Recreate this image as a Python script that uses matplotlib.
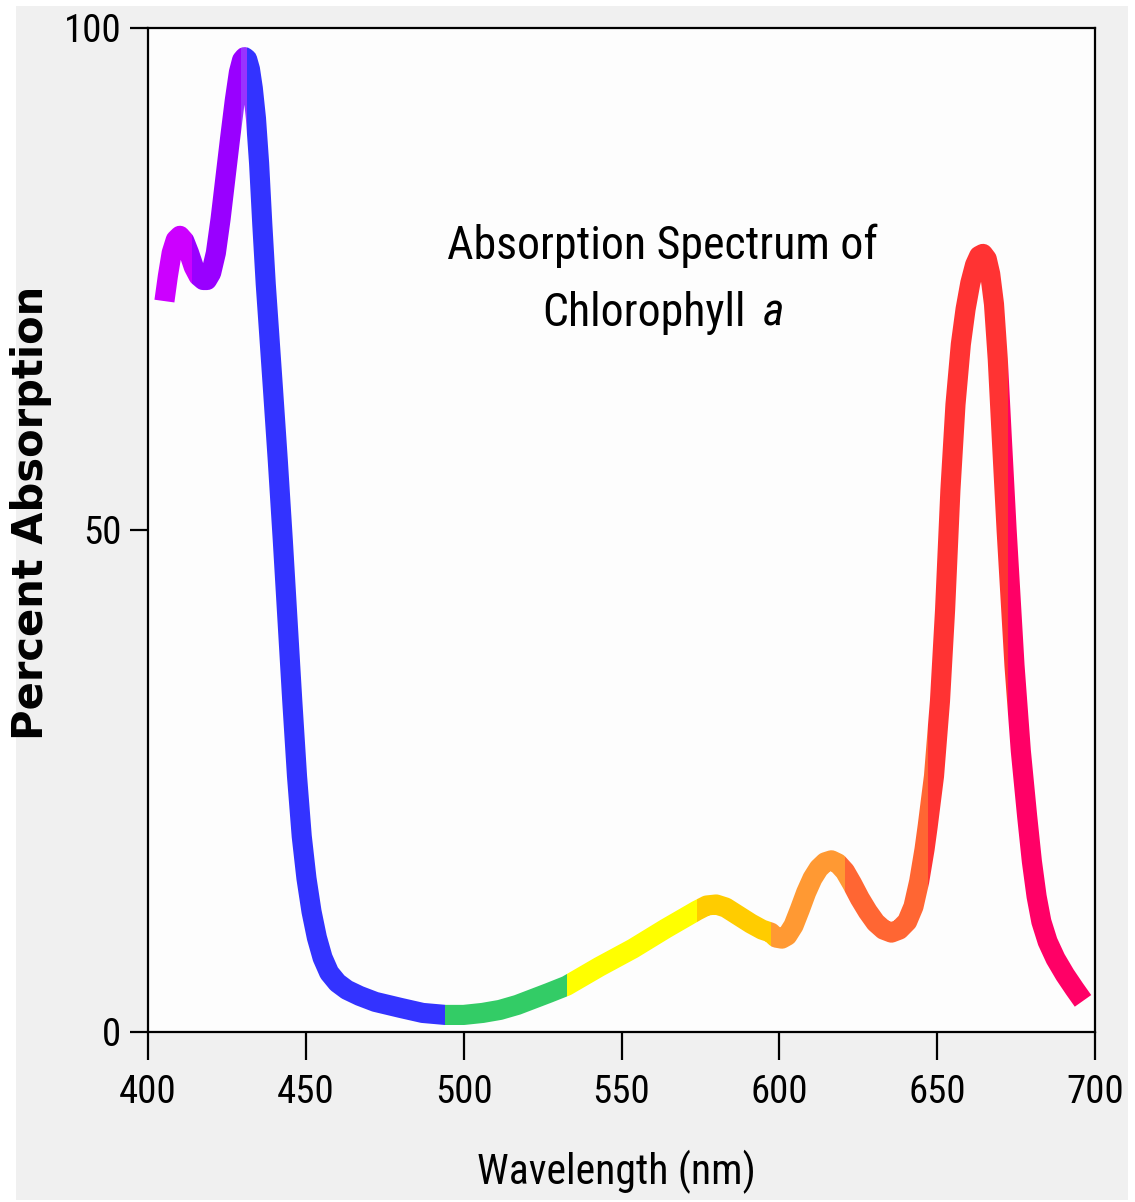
import numpy as np
import matplotlib
matplotlib.use("Agg")
import matplotlib.pyplot as plt
from matplotlib.patches import Rectangle
from matplotlib import font_manager as fm

# ---- data ----
wavelength = [405.2, 406.3, 407.5, 408.8, 410.1, 411.5, 413, 414.5, 416, 417.5, 418.7, 420, 421.5,
              423, 424.5, 426, 427.5, 428.8, 429.8, 430.6, 431.4, 432.3, 433.2, 434.2, 435.2,
              436.2, 437.3, 438.4, 439.6, 441.1, 442.7, 444.2, 445.7, 447.2, 448.7, 450.2, 451.8,
              453.5, 455.3, 457.4, 460, 463, 467, 472, 480, 487, 494.2, 500, 506, 511.5, 517, 522, 527,
              532.6, 543, 553.6, 564, 573.9, 577, 580, 583, 587, 591, 594.5, 597.3, 599, 600.8,
              602.5, 604.5, 606.5, 608.5, 610.5, 612.5, 614.5, 616.5, 618.5, 620.8, 623, 625.5,
              628, 630.5, 633, 635.5, 638, 640.5, 642.5, 644.3, 646, 647, 649, 650.9, 652.5,
              654.2, 655.8, 657.5, 659, 660.5, 662, 663.3, 664.5, 665.7, 666.8, 668, 669.2,
              670.5, 672, 673.3, 674.5, 676.5, 678.5, 680, 681.5, 683, 685, 687.5, 690.5, 693.5,
              696.2]
absorption = [72.8, 75.3, 77.6, 78.9, 79.3, 78.8, 77.6, 76.2, 75.3, 74.9, 74.9, 75.6, 77.6,
              81, 85, 89, 92.8, 95.6, 96.8, 97.1, 96.9, 95.9, 94, 91, 86.5,
              80.5, 74.5, 69.5, 64, 57, 49, 41, 33, 25.5, 19.5, 15.3, 12,
              9.4, 7.4, 5.9, 4.9, 4.2, 3.6, 3.0, 2.4, 1.9, 1.7, 1.7, 1.9, 2.2, 2.7, 3.3, 3.9,
              4.6, 6.5, 8.3, 10.3, 12.1, 12.6, 12.7, 12.4, 11.6, 10.8, 10.2, 9.9, 9.4, 9.3,
              9.6, 10.6, 12.2, 13.9, 15.3, 16.3, 16.9, 17.1, 16.8, 16.0, 14.8, 13.3,
              12.0, 10.9, 10.2, 9.9, 10.2, 11.0, 12.5, 15, 18.2, 20.5, 25.5, 33, 42,
              54, 62.5, 68.5, 72, 74.6, 76.4, 77.3, 77.5, 77.0, 75.5, 72.5, 67,
              59, 50, 43, 36.5, 28, 21.5, 17, 13.5, 11, 9, 7.3, 5.7, 4.3,
              3.1]

band_edges = [405.2, 414, 429.6, 431.3, 494.2, 532.6, 573.9, 597.3, 620.8, 647, 672.5, 696.2]
band_colors = ['#cc00ff', '#9900ff', '#9933ff', '#3333ff', '#33cc66', '#ffff00',
               '#ffcc00', '#ff9933', '#ff6633', '#ff3333', '#ff0066']

x_ticks = [400, 450, 500, 550, 600, 650, 700]
y_ticks = [0, 50, 100]
y_tick_labels = ['0', '50', '100']

title_line1 = "Absorption Spectrum of"
title_line2 = "Chlorophyll"
title_italic = "a"
x_label = "Wavelength (nm)"
y_label = "Percent Absorption"

# ---- pick a narrow font if one is installed ----
installed = {f.name for f in fm.fontManager.ttflist}
narrow_stretch = 'normal'
narrow_family = 'Liberation Sans'
for cand in ['Liberation Sans Narrow', 'Arial Narrow', 'Roboto Condensed',
             'Open Sans Condensed', 'DejaVu Sans Condensed']:
    if cand in installed:
        narrow_family = cand
        break
else:
    for f in fm.fontManager.ttflist:
        if f.name == 'DejaVu Sans' and str(f.stretch) in ('condensed', 'semi-condensed', '500', '600'):
            narrow_family = 'DejaVu Sans'
            narrow_stretch = 'condensed'
            break
narrow = [narrow_family, 'DejaVu Sans']

# ---- figure ----
W, H = 1135, 1202
fig = plt.figure(figsize=(W / 100, H / 100), dpi=100, facecolor='white')
bg = Rectangle((16 / W, 2 / H), (1128 - 16) / W, (1196 - 2) / H,
               transform=fig.transFigure, facecolor='#f0f0f0',
               edgecolor='none', zorder=-10)
fig.patches.append(bg)

ax = fig.add_axes([148 / W, 1 - 1032 / H, (1095 - 148) / W, (1032 - 28) / H])
ax.set_zorder(5)
ax.set_facecolor('#fdfdfd')
ax.set_xlim(400, 700)
ax.set_ylim(0, 100)

# each colour band = the whole curve clipped to a vertical strip of wavelengths
n_bands = len(band_colors)
for i, (lo, hi, col) in enumerate(zip(band_edges[:-1], band_edges[1:], band_colors)):
    lo_c = lo if i > 0 else 380
    hi_c = hi if i < n_bands - 1 else 720
    line, = ax.plot(wavelength, absorption, color=col, lw=14.5,
                    solid_capstyle='butt', solid_joinstyle='round', zorder=3)
    clip = Rectangle((lo_c, -20), hi_c - lo_c, 140, transform=ax.transData)
    line.set_clip_path(clip)

for s in ax.spines.values():
    s.set_linewidth(1.6)
    s.set_color('black')

tick_fp = dict(fontfamily=narrow, fontsize=28, fontstretch=narrow_stretch)
ax.set_xticks(x_ticks)
ax.set_xticklabels([str(t) for t in x_ticks], **tick_fp)
ax.set_yticks(y_ticks)
ax.set_yticklabels(y_tick_labels, **tick_fp)
ax.tick_params(axis='x', length=20, width=1.6, pad=10, direction='out')
ax.tick_params(axis='y', length=13, width=1.6, pad=6, direction='out')

# title inside plot
ax.text(0.543, 0.783, title_line1, transform=ax.transAxes, ha='center', va='center',
        fontfamily=narrow, fontsize=33, fontstretch=narrow_stretch)
ax.text(0.631, 0.716, title_line2, transform=ax.transAxes, ha='right', va='center',
        fontfamily=narrow, fontsize=33, fontstretch=narrow_stretch)
ax.text(0.66, 0.716, title_italic, transform=ax.transAxes, ha='center', va='center',
        fontfamily=narrow, fontsize=33, style='italic', fontstretch=narrow_stretch)

fig.text(616 / W, 1 - 1172 / H, x_label, ha='center', va='center',
         fontfamily=narrow, fontsize=30, fontstretch=narrow_stretch)
fig.text(31 / W, 1 - 513 / H, y_label, ha='center', va='center', rotation=90,
         fontfamily='DejaVu Sans', fontweight='bold', fontsize=30)

fig.savefig('out.png', dpi=100, facecolor=fig.get_facecolor())
